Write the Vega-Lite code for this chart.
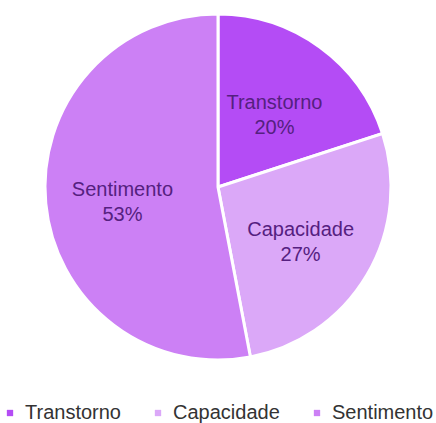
{
  "$schema": "https://vega.github.io/schema/vega-lite/v6.json",
  "width": 436,
  "height": 374,
  "padding": {"top": 0, "left": 0, "right": 0, "bottom": 49},
  "autosize": {"type": "none"},
  "background": "white",
  "data": {
    "values": [
      {"categoria": "Transtorno", "valor": 20, "ordem": 1},
      {"categoria": "Capacidade", "valor": 27, "ordem": 2},
      {"categoria": "Sentimento", "valor": 53, "ordem": 3}
    ]
  },
  "transform": [
    {"calculate": "[datum.categoria, datum.valor + '%']", "as": "rotulo"}
  ],
  "encoding": {
    "theta": {"field": "valor", "type": "quantitative", "stack": true},
    "order": {"field": "ordem", "type": "quantitative"},
    "color": {
      "field": "categoria",
      "type": "nominal",
      "sort": ["Transtorno", "Capacidade", "Sentimento"],
      "scale": {
        "domain": ["Transtorno", "Capacidade", "Sentimento"],
        "range": ["#b44cf5", "#dba8f8", "#cc80f5"]
      },
      "legend": {
        "title": null,
        "orient": "bottom",
        "direction": "horizontal",
        "offset": 29,
        "symbolType": "square",
        "symbolSize": 40,
        "symbolStrokeWidth": 0,
        "labelFont": "Liberation Sans",
        "labelFontSize": 20,
        "labelColor": "#333333",
        "columnPadding": 27,
        "labelOffset": 5
      }
    }
  },
  "layer": [
    {
      "mark": {"type": "arc", "outerRadius": 173, "stroke": "white", "strokeWidth": 3}
    },
    {
      "mark": {
        "type": "text",
        "radius": 96,
        "font": "Liberation Sans",
        "fontSize": 20,
        "lineHeight": 25,
        "dy": -6
      },
      "encoding": {
        "text": {"field": "rotulo"},
        "color": {"value": "#552080"}
      }
    }
  ]
}
